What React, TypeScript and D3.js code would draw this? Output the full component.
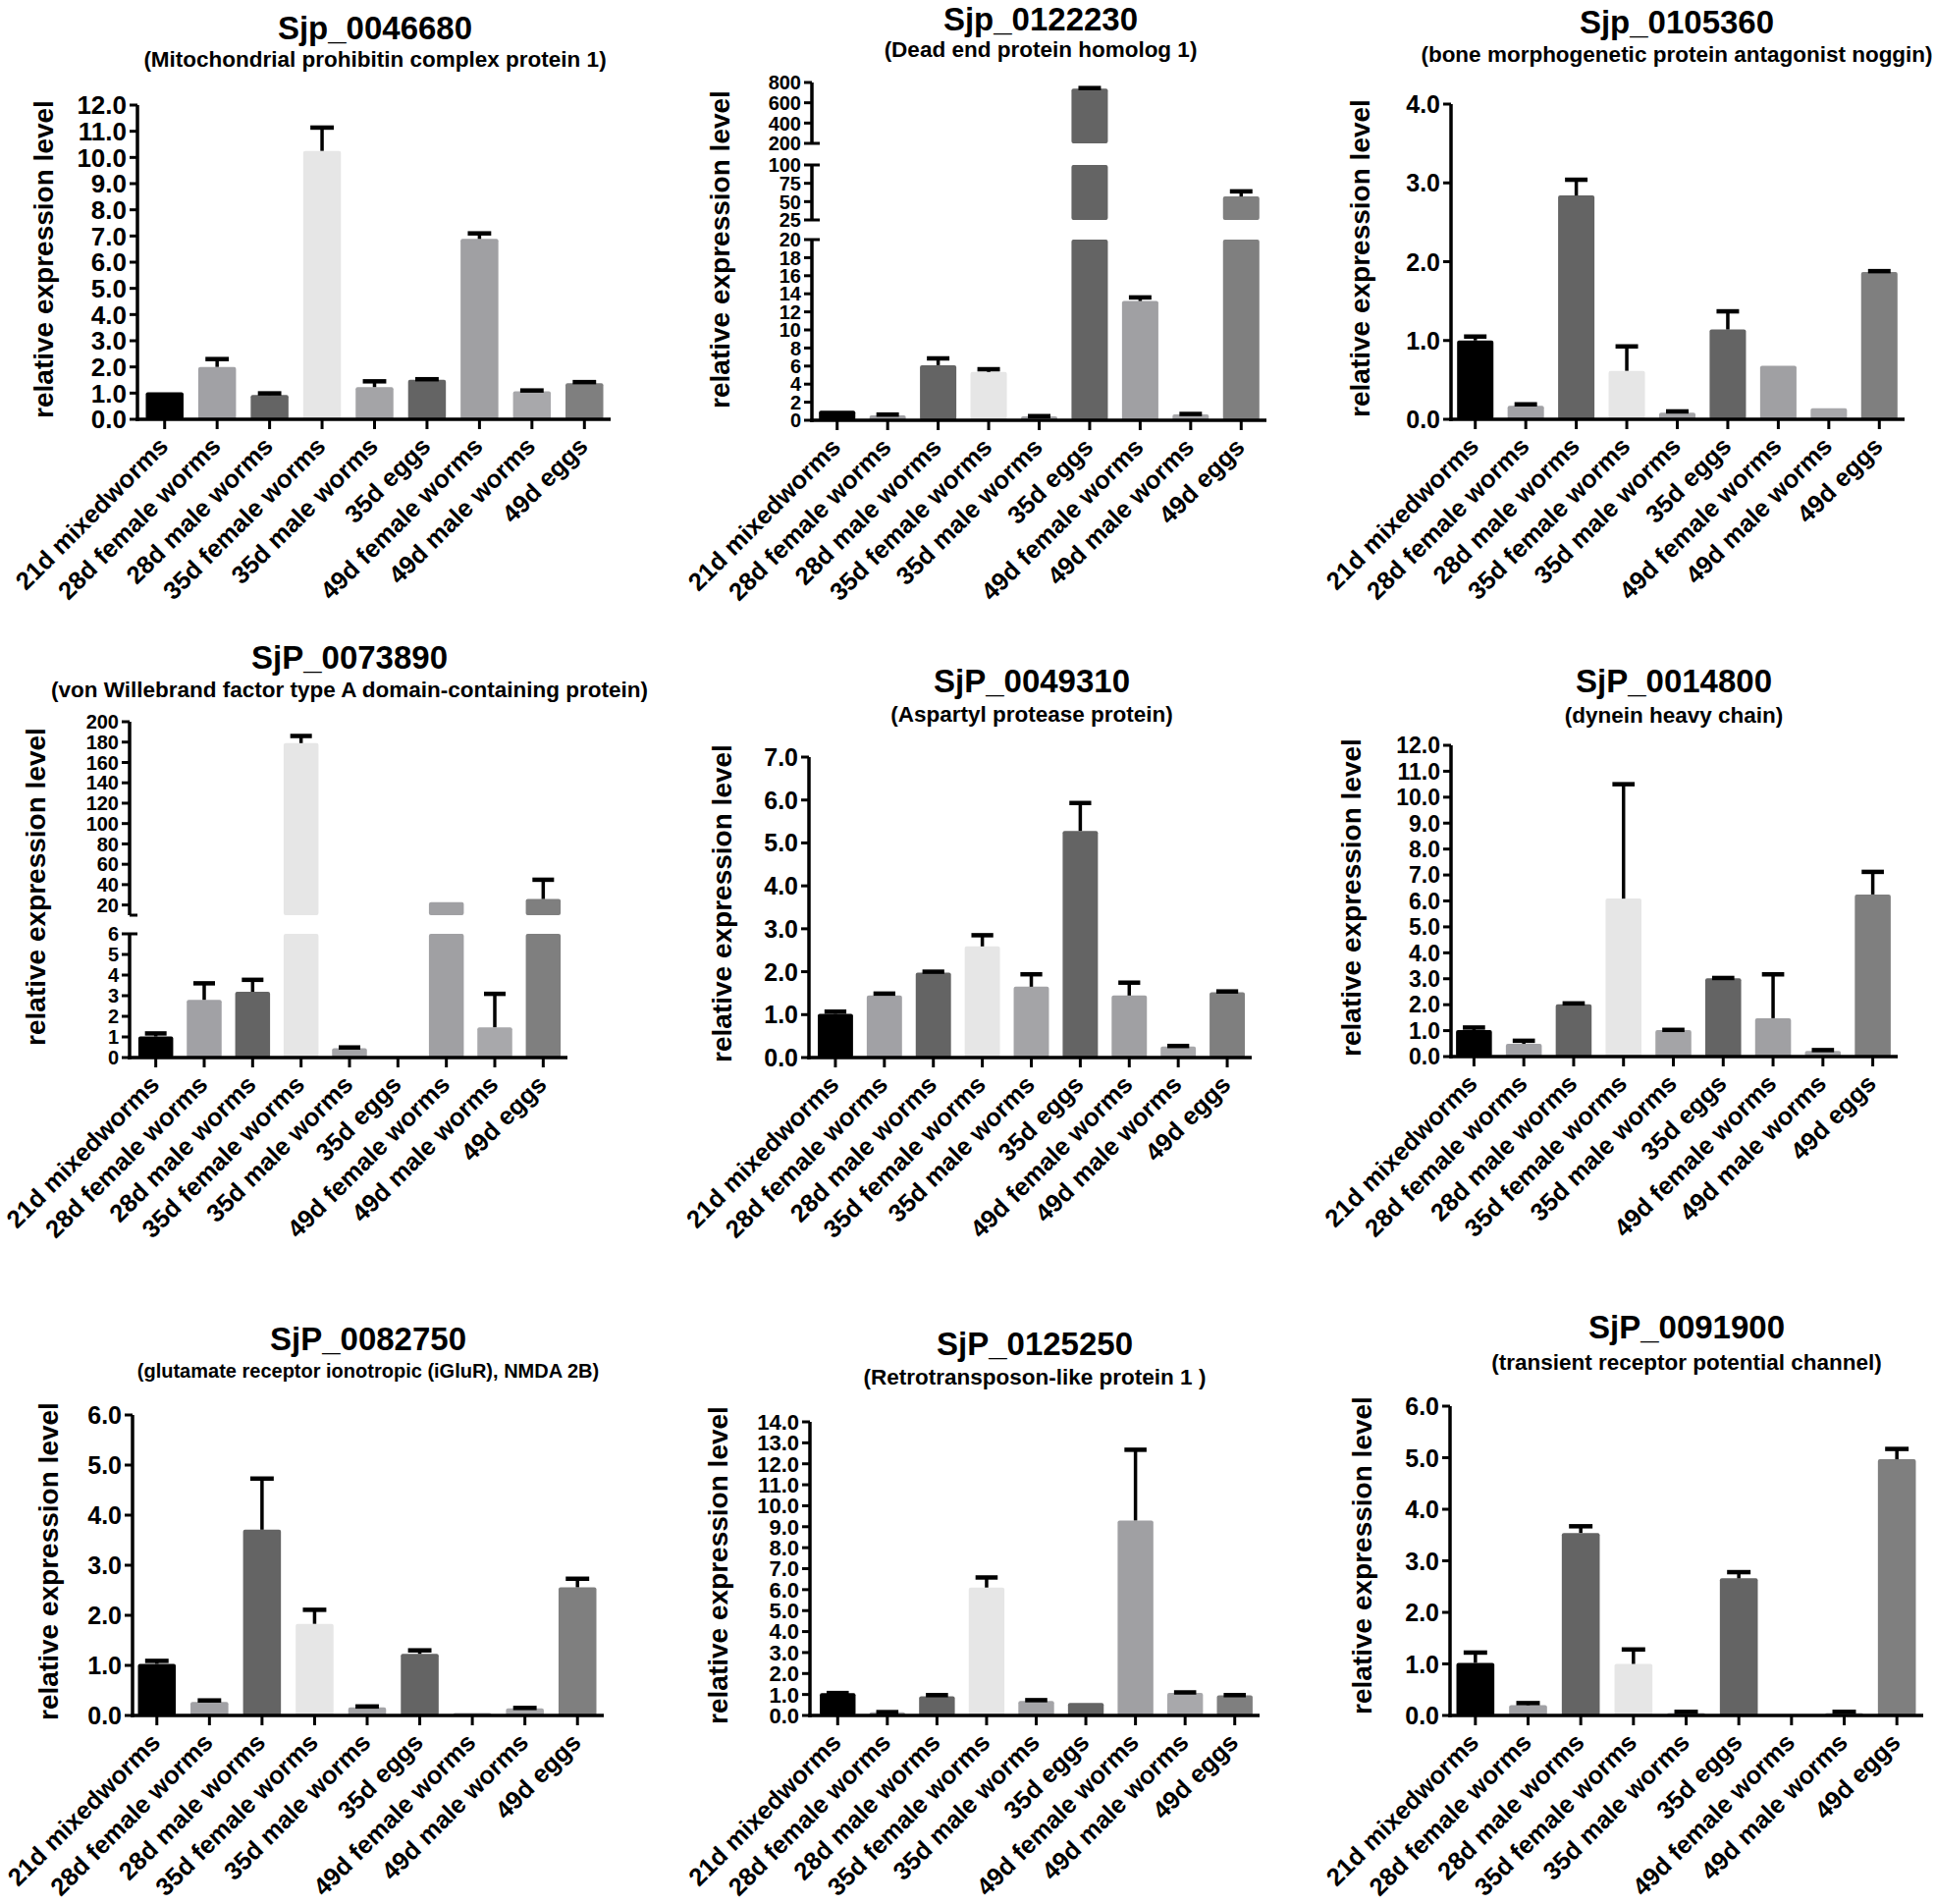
import React, { useRef, useEffect } from 'react';
import * as d3 from 'd3';

const CATEGORIES = [
  '21d mixedworms',
  '28d female worms',
  '28d male worms',
  '35d female worms',
  '35d male worms',
  '35d eggs',
  '49d female worms',
  '49d male worms',
  '49d eggs',
];

const BAR_COLORS = ['#000000', '#a1a1a5', '#646464', '#e6e6e6', '#a4a4a7', '#646464', '#a0a0a3', '#a8a8ab', '#7f7f7f'];

// mean + upper error (SEM) per gene, in category order
const MEAN_0046680 = [1.03, 2.0, 0.93, 10.25, 1.23, 1.51, 6.89, 1.07, 1.38];
const ERR_0046680 = [0, 0.3, 0.06, 0.89, 0.22, 0.02, 0.21, 0.03, 0.04];
const MEAN_0122230 = [1.05, 0.55, 6.1, 5.35, 0.43, 740, 13.2, 0.65, 57];
const ERR_0122230 = [0, 0.08, 0.75, 0.3, 0.03, 5, 0.4, 0.05, 7];
const MEAN_0105360 = [1.0, 0.17, 2.84, 0.615, 0.084, 1.14, 0.68, 0.14, 1.87];
const ERR_0105360 = [0.05, 0.02, 0.2, 0.31, 0.016, 0.23, 0, 0, 0.01];
const MEAN_0073890 = [1.02, 2.8, 3.19, 179, 0.45, 0, 22.8, 1.47, 25.9];
const ERR_0073890 = [0.15, 0.8, 0.58, 7, 0.04, 0, 0, 1.62, 18.9];
const MEAN_0049310 = [1.02, 1.445, 1.98, 2.59, 1.65, 5.28, 1.445, 0.26, 1.52];
const ERR_0049310 = [0.05, 0.045, 0.02, 0.26, 0.29, 0.65, 0.3, 0.01, 0.02];
const MEAN_0014800 = [1.02, 0.49, 2.02, 6.09, 1.02, 3.02, 1.48, 0.22, 6.25];
const ERR_0014800 = [0.1, 0.12, 0.03, 4.41, 0.01, 0.01, 1.69, 0.03, 0.87];
const MEAN_0082750 = [1.03, 0.27, 3.71, 1.83, 0.16, 1.23, 0.05, 0.14, 2.56];
const ERR_0082750 = [0.06, 0.03, 1.02, 0.28, 0.02, 0.07, 0, 0.01, 0.17];
const MEAN_0125250 = [1.06, 0.15, 0.91, 6.1, 0.69, 0.6, 9.3, 1.08, 0.96];
const ERR_0125250 = [0.01, 0.01, 0.06, 0.48, 0.04, 0, 3.37, 0.02, 0.01];
const MEAN_0091900 = [1.02, 0.2, 3.54, 1.0, 0.05, 2.66, 0, 0.05, 4.97];
const ERR_0091900 = [0.2, 0.04, 0.13, 0.28, 0.02, 0.12, 0, 0.02, 0.2];

// tick labels
const TICKS_0_12 = [0, 1, 2, 3, 4, 5, 6, 7, 8, 9, 10, 11, 12];
const TICKS_0_4 = [0, 1, 2, 3, 4];
const TICKS_0_6 = [0, 1, 2, 3, 4, 5, 6];
const TICKS_0_7 = [0, 1, 2, 3, 4, 5, 6, 7];
const TICKS_0_14 = [0, 1, 2, 3, 4, 5, 6, 7, 8, 9, 10, 11, 12, 13, 14];
const TICKS_0_20 = [0, 2, 4, 6, 8, 10, 12, 14, 16, 18, 20];
const TICKS_25_100 = [25, 50, 75, 100];
const TICKS_200_800 = [200, 400, 600, 800];
const TICKS_20_200 = [20, 40, 60, 80, 100, 120, 140, 160, 180, 200];

interface Segment {
  domain: [number, number];
  range: [number, number];
  ticks: number[];
}

interface Panel {
  title: string;
  subtitle: string;
  mean: number[];
  err: number[];
  axisX: number;
  band: [number, number];
  segments: Segment[];
  fmt: string;
  tickSize: number;
  titleX: number;
  titleY: number;
  subY: number;
  subSize: number;
  labelX: number;
  labelY: number;
}

const PANELS: Panel[] = [
  {
    title: 'Sjp_0046680', subtitle: '(Mitochondrial prohibitin complex protein 1)',
    mean: MEAN_0046680, err: ERR_0046680, axisX: 140, band: [141, 622],
    segments: [{ domain: [0, 12], range: [427, 107], ticks: TICKS_0_12 }],
    fmt: '.1f', tickSize: 26, titleX: 382, titleY: 40, subY: 68, subSize: 22.5, labelX: 54, labelY: 264,
  },
  {
    title: 'Sjp_0122230', subtitle: '(Dead end protein homolog 1)',
    mean: MEAN_0122230, err: ERR_0122230, axisX: 827, band: [827, 1290],
    segments: [
      { domain: [0, 20], range: [428, 244], ticks: TICKS_0_20 },
      { domain: [25, 100], range: [224, 168], ticks: TICKS_25_100 },
      { domain: [200, 800], range: [146, 84], ticks: TICKS_200_800 },
    ],
    fmt: 'd', tickSize: 20, titleX: 1060, titleY: 31, subY: 58, subSize: 22.5, labelX: 743, labelY: 254,
  },
  {
    title: 'Sjp_0105360', subtitle: '(bone morphogenetic protein antagonist noggin)',
    mean: MEAN_0105360, err: ERR_0105360, axisX: 1478, band: [1477, 1940],
    segments: [{ domain: [0, 4], range: [427, 106], ticks: TICKS_0_4 }],
    fmt: '.1f', tickSize: 25, titleX: 1708, titleY: 34, subY: 63, subSize: 22.5, labelX: 1395, labelY: 263,
  },
  {
    title: 'SjP_0073890', subtitle: '(von Willebrand factor type A domain-containing protein)',
    mean: MEAN_0073890, err: ERR_0073890, axisX: 132, band: [134, 578],
    segments: [
      { domain: [0, 6], range: [1077, 951], ticks: TICKS_0_6 },
      { domain: [10, 200], range: [932, 735], ticks: TICKS_20_200 },
    ],
    fmt: 'd', tickSize: 20, titleX: 356, titleY: 681, subY: 710, subSize: 22.5, labelX: 46, labelY: 903,
  },
  {
    title: 'SjP_0049310', subtitle: '(Aspartyl protease protein)',
    mean: MEAN_0049310, err: ERR_0049310, axisX: 824, band: [826, 1275],
    segments: [{ domain: [0, 7], range: [1077, 771], ticks: TICKS_0_7 }],
    fmt: '.1f', tickSize: 25, titleX: 1051, titleY: 705, subY: 735, subSize: 22.5, labelX: 745, labelY: 920,
  },
  {
    title: 'SjP_0014800', subtitle: '(dynein heavy chain)',
    mean: MEAN_0014800, err: ERR_0014800, axisX: 1478, band: [1476, 1933],
    segments: [{ domain: [0, 12], range: [1076, 759], ticks: TICKS_0_12 }],
    fmt: '.1f', tickSize: 23, titleX: 1705, titleY: 705, subY: 736, subSize: 22.5, labelX: 1386, labelY: 914,
  },
  {
    title: 'SjP_0082750', subtitle: '(glutamate receptor ionotropic (iGluR), NMDA 2B)',
    mean: MEAN_0082750, err: ERR_0082750, axisX: 135, band: [133, 615],
    segments: [{ domain: [0, 6], range: [1747, 1441], ticks: TICKS_0_6 }],
    fmt: '.1f', tickSize: 25, titleX: 375, titleY: 1375, subY: 1403, subSize: 20, labelX: 59, labelY: 1590,
  },
  {
    title: 'SjP_0125250', subtitle: '(Retrotransposon-like protein 1 )',
    mean: MEAN_0125250, err: ERR_0125250, axisX: 825, band: [828, 1283],
    segments: [{ domain: [0, 14], range: [1747, 1448], ticks: TICKS_0_14 }],
    fmt: '.1f', tickSize: 22, titleX: 1054, titleY: 1380, subY: 1410, subSize: 22.5, labelX: 741, labelY: 1594,
  },
  {
    title: 'SjP_0091900', subtitle: '(transient receptor potential channel)',
    mean: MEAN_0091900, err: ERR_0091900, axisX: 1477, band: [1476, 1959],
    segments: [{ domain: [0, 6], range: [1747, 1432], ticks: TICKS_0_6 }],
    fmt: '.1f', tickSize: 25, titleX: 1718, titleY: 1363, subY: 1395, subSize: 22.5, labelX: 1397, labelY: 1584,
  },
];

const W = 1971;
const H = 1939;
const FONT = '"Liberation Sans", Arial, Helvetica, sans-serif';
const AXIS_W = 3.5;

const App: React.FC = () => {
  const svgRef = useRef<SVGSVGElement>(null);

  useEffect(() => {
    if (!svgRef.current) return;
    const svg = d3.select(svgRef.current);
    svg.selectAll('*').remove();
    svg.append('rect').attr('width', W).attr('height', H).attr('fill', '#fff');

    PANELS.forEach(p => {
      const g = svg.append('g').attr('font-family', FONT).attr('font-weight', 'bold').attr('fill', '#000');
      const x = d3.scaleBand().domain(CATEGORIES).range(p.band).paddingInner(0.28).paddingOuter(0.14);
      const ys = p.segments.map(s => d3.scaleLinear().domain(s.domain).range(s.range));
      const y0 = p.segments[0].range[0];
      const fmt = d3.format(p.fmt);
      const rows = CATEGORIES.map((c, i) => ({ c, i, v: p.mean[i], e: p.err[i] }));

      // Bars, one piece per axis segment
      p.segments.forEach((s, si) => {
        const y = ys[si];
        g.append('g')
          .selectAll('rect')
          .data(rows.filter(d => d.v > s.domain[0]))
          .join('rect')
          .attr('x', d => x(d.c)!)
          .attr('width', x.bandwidth())
          .attr('y', d => y(Math.min(d.v, s.domain[1])))
          .attr('height', d => y(s.domain[0]) - y(Math.min(d.v, s.domain[1])))
          .attr('rx', 2)
          .attr('fill', d => BAR_COLORS[d.i]);
      });

      // Error bars (upper only)
      const segOf = (v: number) => {
        let k = 0;
        p.segments.forEach((s, si) => { if (v >= s.domain[0]) k = si; });
        return k;
      };
      const capW = x.bandwidth() * 0.62;
      const eb = g.append('g').attr('stroke', '#000');
      rows.filter(d => d.e > 0).forEach(d => {
        const y = ys[segOf(d.v)];
        const cx = x(d.c)! + x.bandwidth() / 2;
        eb.append('line')
          .attr('x1', cx).attr('x2', cx)
          .attr('y1', y(d.v)).attr('y2', y(d.v + d.e))
          .attr('stroke-width', 3.5);
        eb.append('line')
          .attr('x1', cx - capW / 2).attr('x2', cx + capW / 2)
          .attr('y1', y(d.v + d.e)).attr('y2', y(d.v + d.e))
          .attr('stroke-width', 4.5);
      });

      // Y axis segments
      p.segments.forEach((s, si) => {
        const y = ys[si];
        const ax = g.append('g');
        ax.append('line')
          .attr('x1', p.axisX).attr('x2', p.axisX)
          .attr('y1', s.range[0] + (si === 0 ? AXIS_W / 2 : 0)).attr('y2', s.range[1])
          .attr('stroke', '#000').attr('stroke-width', AXIS_W);
        ax.selectAll('line.tick')
          .data(s.ticks)
          .join('line')
          .attr('class', 'tick')
          .attr('x1', p.axisX - 8).attr('x2', p.axisX)
          .attr('y1', d => y(d)).attr('y2', d => y(d))
          .attr('stroke', '#000').attr('stroke-width', 3);
        ax.selectAll('text')
          .data(s.ticks)
          .join('text')
          .attr('x', p.axisX - 11)
          .attr('y', d => y(d))
          .attr('dy', '0.36em')
          .attr('text-anchor', 'end')
          .attr('font-size', p.tickSize)
          .text(d => fmt(d));
        if (p.segments.length > 1) {
          const ends: number[] = [];
          if (si > 0) ends.push(s.range[0]);
          if (si < p.segments.length - 1) ends.push(s.range[1]);
          ends.forEach(e => {
            ax.append('line')
              .attr('x1', p.axisX).attr('x2', p.axisX + 8)
              .attr('y1', e).attr('y2', e)
              .attr('stroke', '#000').attr('stroke-width', 3);
          });
        }
      });

      // X axis
      g.append('line')
        .attr('x1', p.axisX - AXIS_W / 2).attr('x2', p.band[1])
        .attr('y1', y0).attr('y2', y0)
        .attr('stroke', '#000').attr('stroke-width', AXIS_W);
      g.append('g')
        .selectAll('line')
        .data(CATEGORIES)
        .join('line')
        .attr('x1', d => x(d)! + x.bandwidth() / 2)
        .attr('x2', d => x(d)! + x.bandwidth() / 2)
        .attr('y1', y0).attr('y2', y0 + 10)
        .attr('stroke', '#000').attr('stroke-width', 3);
      g.append('g')
        .selectAll('text')
        .data(CATEGORIES)
        .join('text')
        .attr('transform', d => `translate(${x(d)! + x.bandwidth() / 2 + 5},${y0 + 29}) rotate(-45)`)
        .attr('text-anchor', 'end')
        .attr('font-size', 25.5)
        .text(d => d);

      // Y axis title
      g.append('text')
        .attr('transform', `translate(${p.labelX},${p.labelY}) rotate(-90)`)
        .attr('text-anchor', 'middle')
        .attr('font-size', 28)
        .text('relative expression level');

      // Titles
      g.append('text')
        .attr('x', p.titleX).attr('y', p.titleY)
        .attr('text-anchor', 'middle')
        .attr('font-size', 33)
        .text(p.title);
      g.append('text')
        .attr('x', p.titleX).attr('y', p.subY)
        .attr('text-anchor', 'middle')
        .attr('font-size', p.subSize)
        .text(p.subtitle);
    });
  }, []);

  return (
    <svg
      ref={svgRef}
      width={W}
      height={H}
      style={{ position: 'absolute', left: 0, top: 0, display: 'block' }}
    />
  );
};

export default App;
